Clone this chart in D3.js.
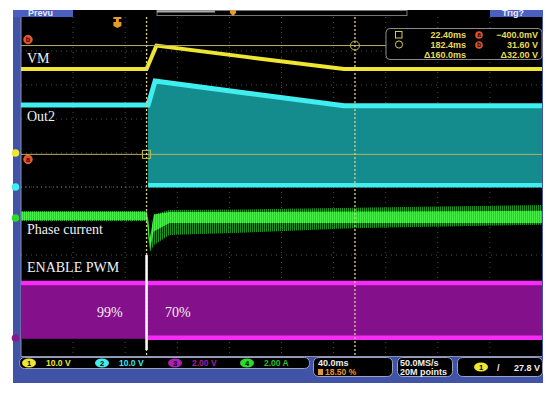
<!DOCTYPE html>
<html>
<head>
<meta charset="utf-8">
<script src="https://cdn.jsdelivr.net/npm/d3@7"></script>
<style>
  body { margin: 0; background: #fff; }
</style>
</head>
<body>
<div id="container"></div>
<script>
let w = 554;
let h = 395;
let plotLeft = 21, plotRight = 542, plotTop = 17, plotBottom = 357;

// time axis in ms: 40 ms/div, 10 div, trigger at 18.5 %
const timeDomain = [-74, 326];

// channels 1..4
const chNames = ["VM", "Out2", "ENABLE PWM", "Phase current"];
const chPerDiv = [10, 10, 2, 2];          // units per division
const chOffset = [1, 0, -4.44, -0.91];    // ground position, divisions
const chColors = ["#efe632", "#40eef0", "#d21ad2", "#2bdc2b"];
const chScaleText = ["10.0 V", "10.0 V", "2.00 V", "2.00 A"];

// VM (V)
const vmTime  = [-74, 22.4, 30, 100, 174, 326];
const vmVolts = [24.7, 24.7, 31.6, 28.2, 24.7, 24.7];

// Out2 envelope (V)
const out2Time = [-74, 23.4, 23.6, 29, 100, 174, 326];
const out2High = [24.1, 24.1, 24.1, 31.2, 27.6, 23.9, 23.9];
const out2Low  = [24.1, 24.1, 0.5, 0.5, 0.5, 0.5, 0.5];

// Phase current envelope (A)
const phTime     = [-74, 22.4, 23.5, 25, 28, 40, 100, 180, 326];
const phHigh     = [0.41, 0.41, 0.0, -1.2, 0.2, 0.47, 0.5, 0.6, 0.76];
const phLow      = [-0.18, -0.18, -1.0, -2.0, -1.6, -1.0, -0.85, -0.6, -0.4];
const phCoreHigh = [0.36, 0.36, 0.0, -1.2, 0.2, 0.35, 0.35, 0.38, 0.42];
const phCoreLow  = [-0.14, -0.14, -0.8, -1.9, -0.8, -0.3, -0.3, -0.3, -0.3];

// ENABLE PWM (V), duty before / after the step
const pwmEdges = [-74, 22.4, 326];
const pwmHigh = 3.24;
const pwmLow = -0.05;
const dutyLabels = ["99%", "70%"];
const dutyLabelTime = [-15.7, 36.6];

// cursors on channel 1
const cursorTime  = [22.4, 182.4];
const cursorVolts = [-0.4, 31.6];
const readTime  = ["22.40ms", "182.4ms", "\u0394160.0ms"];
const readVolts = ["\u2212400.0mV", "31.60 V", "\u039432.00 V"];

const x = d3.scaleLinear().domain(timeDomain).range([plotLeft, plotRight]);
const yDiv = d3.scaleLinear().domain([-5, 5]).range([plotBottom, plotTop]);
const yCh = (c, v) => yDiv(chOffset[c] + v / chPerDiv[c]);

let svg = d3.select("#container")
  .append("svg")
    .attr("width", w)
    .attr("height", h)
    .style("font-family", "Liberation Sans, Arial, sans-serif");

let defs = svg.append("defs");
let pDark = defs.append("pattern").attr("id", "hatchDark")
  .attr("patternUnits", "userSpaceOnUse").attr("width", 2).attr("height", 4);
pDark.append("rect").attr("width", 1).attr("height", 4).attr("fill", "#139a18");
let pBright = defs.append("pattern").attr("id", "hatchBright")
  .attr("patternUnits", "userSpaceOnUse").attr("width", 2).attr("height", 4);
pBright.append("rect").attr("width", 2).attr("height", 4).attr("fill", "#2ccc2c");
pBright.append("rect").attr("width", 1).attr("height", 4).attr("fill", "#48ee48");
// glow: user space region so flat lines still render
defs.append("filter").attr("id", "glow")
  .attr("filterUnits", "userSpaceOnUse")
  .attr("x", 0).attr("y", 0).attr("width", w).attr("height", h)
  .append("feGaussianBlur").attr("stdDeviation", 0.5);
defs.append("clipPath").attr("id", "plotClip")
  .append("rect").attr("x", plotLeft).attr("y", plotTop)
  .attr("width", plotRight - plotLeft).attr("height", plotBottom - plotTop);

// frame
svg.append("rect").attr("x", 13).attr("y", 10).attr("width", 530).attr("height", 373)
  .attr("fill", "#4053a6");
svg.append("rect").attr("x", plotLeft).attr("y", plotTop)
  .attr("width", plotRight - plotLeft).attr("height", plotBottom - plotTop)
  .attr("fill", "#000");

// top bar
svg.append("rect").attr("x", 13).attr("y", 10).attr("width", 530).attr("height", 7).attr("fill", "#000");
svg.append("rect").attr("x", 13).attr("y", 10).attr("width", 60).attr("height", 7).attr("fill", "#4a5fc0");
svg.append("rect").attr("x", 490).attr("y", 10).attr("width", 53).attr("height", 7).attr("fill", "#4a5fc0");
svg.append("text").attr("x", 28).attr("y", 15.5).attr("fill", "#e8ecff")
  .attr("font-size", 9).attr("font-weight", "bold").text("Prevu");
svg.append("text").attr("x", 502).attr("y", 15.5).attr("fill", "#e8ecff")
  .attr("font-size", 9).attr("font-weight", "bold").text("Trig?");
svg.append("rect").attr("x", 157).attr("y", 10.5).attr("width", 250).attr("height", 5)
  .attr("fill", "none").attr("stroke", "#777").attr("stroke-width", 1);
svg.append("rect").attr("x", 157).attr("y", 10.5).attr("width", 58).attr("height", 2).attr("fill", "#aaa");
svg.append("path").attr("d", "M230,10 h6 v3 l-3,3 l-3,-3 z").attr("fill", "#e59a2a");

// graticule
let grid = svg.append("g").attr("stroke", "#4c4c4c").attr("stroke-width", 1)
  .attr("stroke-dasharray", "1,4");
grid.selectAll("line.v").data(d3.range(1, 10)).join("line")
  .attr("x1", d => x(timeDomain[0] + d * 40)).attr("x2", d => x(timeDomain[0] + d * 40))
  .attr("y1", plotTop).attr("y2", plotBottom);
grid.selectAll("line.h").data(d3.range(-4, 5)).join("line")
  .attr("y1", d => yDiv(d)).attr("y2", d => yDiv(d))
  .attr("x1", plotLeft).attr("x2", plotRight);
svg.append("line").attr("x1", plotLeft).attr("x2", plotRight)
  .attr("y1", yDiv(0)).attr("y2", yDiv(0))
  .attr("stroke", "#777").attr("stroke-dasharray", "1,3");
svg.append("path")
  .attr("d", `M${plotLeft},${plotTop} V${plotBottom - 0.5} H${plotRight}`)
  .attr("fill", "none").attr("stroke", "#8a90b0").attr("stroke-width", 1);

let traces = svg.append("g").attr("clip-path", "url(#plotClip)");

// ENABLE PWM
const pwm = d3.range(2).map(i => ({ t0: pwmEdges[i], t1: pwmEdges[i + 1] }));
traces.selectAll("rect.pwm").data(pwm).join("rect")
  .attr("x", d => x(d.t0)).attr("width", d => x(d.t1) - x(d.t0))
  .attr("y", yCh(2, pwmHigh)).attr("height", yCh(2, pwmLow) - yCh(2, pwmHigh))
  .attr("fill", "#85108b");
traces.append("line").attr("x1", x(pwmEdges[0])).attr("x2", x(pwmEdges[2]))
  .attr("y1", yCh(2, pwmHigh)).attr("y2", yCh(2, pwmHigh))
  .attr("stroke", "#f72af7").attr("stroke-width", 4.5).attr("filter", "url(#glow)");
traces.append("line").attr("x1", x(pwmEdges[1])).attr("x2", x(pwmEdges[2]))
  .attr("y1", yCh(2, pwmLow) - 1).attr("y2", yCh(2, pwmLow) - 1)
  .attr("stroke", "#f72af7").attr("stroke-width", 4.5).attr("filter", "url(#glow)");

// Out2
const out2 = out2Time.map((t, i) => ({ t, hi: out2High[i], lo: out2Low[i] }));
traces.append("path").datum(out2)
  .attr("d", d3.area().x(d => x(d.t)).y0(d => yCh(1, d.lo)).y1(d => yCh(1, d.hi)))
  .attr("fill", "#148c8e");
traces.append("path").datum(out2)
  .attr("d", d3.line().x(d => x(d.t)).y(d => yCh(1, d.hi)))
  .attr("fill", "none").attr("stroke", chColors[1]).attr("stroke-width", 5)
  .attr("filter", "url(#glow)");
traces.append("path").datum(out2.slice(2))
  .attr("d", d3.line().x(d => x(d.t)).y(d => yCh(1, d.lo)))
  .attr("fill", "none").attr("stroke", chColors[1]).attr("stroke-width", 4.5)
  .attr("filter", "url(#glow)");

// Phase current
const ph = phTime.map((t, i) => ({ t, hi: phHigh[i], lo: phLow[i], chi: phCoreHigh[i], clo: phCoreLow[i] }));
traces.append("path").datum(ph)
  .attr("d", d3.area().x(d => x(d.t)).y0(d => yCh(3, d.lo)).y1(d => yCh(3, d.hi)))
  .attr("fill", "url(#hatchDark)");
traces.append("path").datum(ph)
  .attr("d", d3.area().x(d => x(d.t)).y0(d => yCh(3, d.clo)).y1(d => yCh(3, d.chi)))
  .attr("fill", "url(#hatchBright)");

// VM
const vm = vmTime.map((t, i) => ({ t, v: vmVolts[i] }));
traces.append("path").datum(vm)
  .attr("d", d3.line().x(d => x(d.t)).y(d => yCh(0, d.v)))
  .attr("fill", "none").attr("stroke", chColors[0]).attr("stroke-width", 4)
  .attr("filter", "url(#glow)");

// cursors
let cur = svg.append("g");
cur.append("line").attr("x1", plotLeft).attr("x2", plotRight)
  .attr("y1", yCh(0, cursorVolts[0])).attr("y2", yCh(0, cursorVolts[0]))
  .attr("stroke", "#b8b060").attr("stroke-width", 1);
cur.append("line").attr("x1", plotLeft).attr("x2", 386)
  .attr("y1", yCh(0, cursorVolts[1])).attr("y2", yCh(0, cursorVolts[1]))
  .attr("stroke", "#b8b060").attr("stroke-width", 1);
cur.selectAll("line.cv").data(cursorTime).join("line")
  .attr("x1", d => x(d)).attr("x2", d => x(d))
  .attr("y1", plotTop).attr("y2", plotBottom)
  .attr("stroke", "#d8d090").attr("stroke-width", 1.3).attr("stroke-dasharray", "2,2");
cur.append("rect").attr("x", x(cursorTime[0]) - 4).attr("y", yCh(0, cursorVolts[0]) - 4)
  .attr("width", 8).attr("height", 8).attr("fill", "none").attr("stroke", "#c8b840");
cur.append("circle").attr("cx", x(cursorTime[1])).attr("cy", yCh(0, cursorVolts[1]))
  .attr("r", 4.5).attr("fill", "none").attr("stroke", "#c8b840");

// white marker line at the duty change
svg.append("line").attr("x1", x(pwmEdges[1])).attr("x2", x(pwmEdges[1]))
  .attr("y1", 255).attr("y2", 350)
  .attr("stroke", "#fff").attr("stroke-width", 2.5);

// red cursor tags at left
[["b", yCh(0, cursorVolts[1]) - 6], ["a", yCh(0, cursorVolts[0]) + 5]].forEach(([s, yy]) => {
  svg.append("circle").attr("cx", 28).attr("cy", yy).attr("r", 4.3)
    .attr("fill", "#e0522a").attr("stroke", "#ff8a50").attr("stroke-width", 0.6);
  svg.append("text").attr("x", 28).attr("y", yy + 2.5).attr("text-anchor", "middle")
    .attr("fill", "#400").attr("font-size", 7).attr("font-weight", "bold").text(s);
});

// trigger marker
svg.append("path").attr("d", `M${x(0) - 4},17 h8 v2 h-2.5 v3 h2.5 v4 l-4,2 l-4,-2 v-4 h2.5 v-3 h-2.5 z`)
  .attr("fill", "#e59a2a");

// channel ground markers
chColors.forEach((c, i) => {
  svg.append("circle").attr("cx", 15.5).attr("cy", yCh(i, 0)).attr("r", 3.8)
    .attr("fill", i == 2 ? "#8a1a8a" : c);
});

// readout box
let box = svg.append("g");
box.append("rect").attr("x", 386).attr("y", 28.5).attr("width", 156).attr("height", 31)
  .attr("rx", 4).attr("fill", "#000").attr("stroke", "#8a8a8a");
let rowY = [38, 48, 57.5];
box.append("rect").attr("x", 395.5).attr("y", 31.5).attr("width", 6.5).attr("height", 6.5)
  .attr("fill", "none").attr("stroke", "#d6cc50");
box.append("circle").attr("cx", 399).attr("cy", 44.5).attr("r", 3.6)
  .attr("fill", "none").attr("stroke", "#d6cc50");
box.selectAll("text.t").data(readTime).join("text")
  .attr("x", 466).attr("y", (d, i) => rowY[i]).attr("text-anchor", "end")
  .attr("fill", "#e6dc5a").attr("font-size", 9).attr("font-weight", "bold").text(d => d);
box.selectAll("text.v").data(readVolts).join("text")
  .attr("x", 538).attr("y", (d, i) => rowY[i]).attr("text-anchor", "end")
  .attr("fill", "#e6dc5a").attr("font-size", 9).attr("font-weight", "bold").text(d => d);
["a", "b"].forEach((s, i) => {
  box.append("circle").attr("cx", 479).attr("cy", rowY[i] - 3).attr("r", 3.8).attr("fill", "#e0522a");
  box.append("text").attr("x", 479).attr("y", rowY[i] - 0.7).attr("text-anchor", "middle")
    .attr("fill", "#400").attr("font-size", 6.5).attr("font-weight", "bold").text(s);
});

// channel labels
const labelDiv = [3.65, 1.94, -2.5, -1.38];
svg.selectAll("text.lab").data(chNames).join("text")
  .attr("x", 27).attr("y", (d, i) => yDiv(labelDiv[i]))
  .attr("fill", "#f2f2f2").attr("font-family", "Liberation Serif, Times New Roman, serif")
  .attr("font-size", 14).text(d => d);
svg.selectAll("text.duty").data(dutyLabels).join("text")
  .attr("x", (d, i) => x(dutyLabelTime[i])).attr("y", 317)
  .attr("fill", "#f2f2f2").attr("font-family", "Liberation Serif, Times New Roman, serif")
  .attr("font-size", 14).text(d => d);

// status bar
let st = svg.append("g").attr("font-weight", "bold");
st.append("rect").attr("x", 19.5).attr("y", 357.5).attr("width", 290).attr("height", 11)
  .attr("rx", 5).attr("fill", "#000").attr("stroke", "#9aa0c0");
const badgeX = [29, 102, 175, 247];
const scaleColors = ["#efe632", "#40e8f0", "#a020a8", "#2bc02b"];
badgeX.forEach((bx, i) => {
  st.append("ellipse").attr("cx", bx).attr("cy", 363).attr("rx", 7).attr("ry", 4.6)
    .attr("fill", i == 2 ? "#b020b0" : chColors[i]);
  st.append("text").attr("x", bx).attr("y", 366).attr("text-anchor", "middle")
    .attr("font-size", 7.5).attr("fill", "#000").text(i + 1);
  st.append("text").attr("x", bx + 17).attr("y", 366.3).attr("font-size", 8.5)
    .attr("fill", scaleColors[i]).text(chScaleText[i]);
});
[[313.5, 79], [397.5, 55], [457.5, 85]].forEach(([bx, bw]) => {
  st.append("rect").attr("x", bx).attr("y", 357.5).attr("width", bw).attr("height", 19)
    .attr("rx", 5).attr("fill", "#000").attr("stroke", "#9aa0c0");
});
st.append("text").attr("x", 318).attr("y", 366).attr("font-size", 9).attr("fill", "#f0f0f0").text("40.0ms");
st.append("rect").attr("x", 318).attr("y", 369).attr("width", 5).attr("height", 6).attr("fill", "#e59a2a");
st.append("text").attr("x", 325).attr("y", 375).attr("font-size", 8.5).attr("fill", "#e59a2a").text("18.50 %");
st.append("text").attr("x", 400).attr("y", 366).attr("font-size", 9).attr("fill", "#f0f0f0").text("50.0MS/s");
st.append("text").attr("x", 400).attr("y", 375).attr("font-size", 9).attr("fill", "#f0f0f0").text("20M points");
st.append("ellipse").attr("cx", 481).attr("cy", 367).attr("rx", 7).attr("ry", 4.6).attr("fill", chColors[0]);
st.append("text").attr("x", 481).attr("y", 370).attr("text-anchor", "middle")
  .attr("font-size", 7.5).attr("fill", "#000").text("1");
st.append("text").attr("x", 497).attr("y", 370.5).attr("font-size", 9).attr("fill", "#f0f0f0").text("/");
st.append("text").attr("x", 540).attr("y", 370.5).attr("text-anchor", "end")
  .attr("font-size", 9).attr("fill", "#f0f0f0").text("27.8 V");
</script>
</body>
</html>
